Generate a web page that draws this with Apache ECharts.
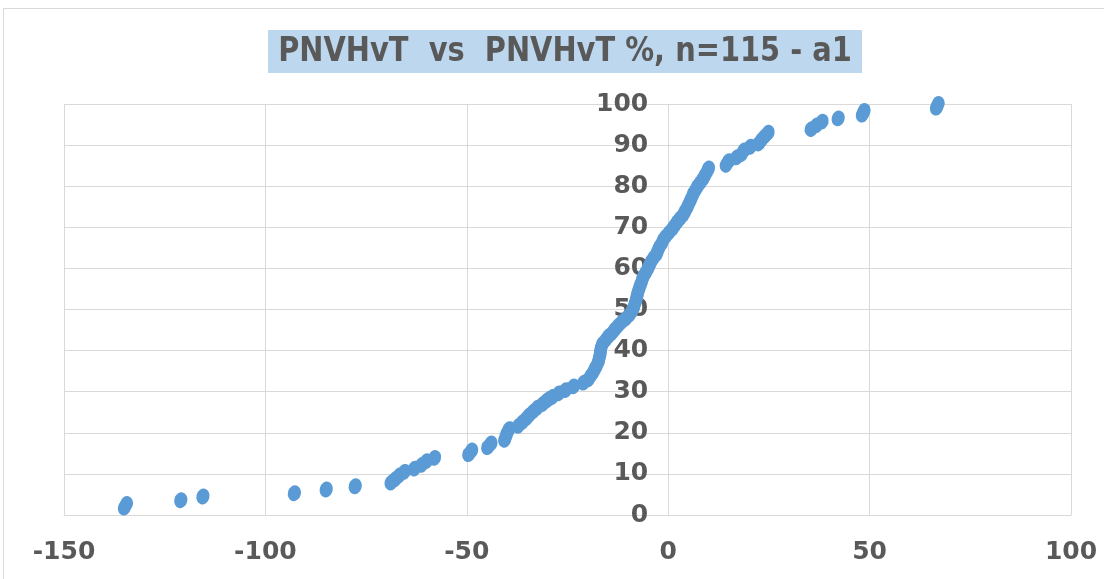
<!DOCTYPE html>
<html>
<head>
<meta charset="utf-8">
<script src="https://cdn.jsdelivr.net/npm/echarts@6/dist/echarts.min.js"></script>
<style>
  html, body { margin: 0; padding: 0; background: #fff; }
  #chart-panel { width: 1104px; height: 579px; }
</style>
</head>
<body>
<div id="chart-panel"></div>
<script>
// PNVHvT values (x) and cumulative percent (y)
const pnvhvt = [
  -135.0, -134.5, -121.0, -115.5, -92.8, -84.9, -77.7,
  -68.8, -67.8, -66.8, -65.5, -63.0, -61.2, -60.0, -58.0,
  -49.5, -48.8, -44.8, -44.0, -40.6, -40.3, -40.0, -39.5,
  -37.2, -36.2, -35.2, -34.5, -33.5, -32.5, -31.2, -30.2, -29.5, -28.8, -27.2, -25.5, -23.5, -21.0,
  -19.8, -19.2, -18.6, -18.1, -17.7, -17.3, -17.1, -16.9, -16.8, -16.6, -16.3, -15.5, -14.8, -13.9,
  -13.2, -12.4, -11.5, -10.5, -9.6, -9.0, -8.6, -8.3, -8.0, -7.8, -7.6, -7.3, -7.0, -6.7,
  -6.4, -6.0, -5.5, -5.0, -4.6, -4.2, -3.6, -2.9, -2.6, -2.2, -1.6, -1.2, -0.6, 0.2,
  1.0, 1.6, 2.2, 3.0, 3.7, 4.2, 4.7, 5.1, 5.5, 5.9, 6.3, 6.8, 7.3, 8.0, 8.6, 9.1, 9.6, 10.0,
  14.4, 15.0, 17.0, 18.2, 18.8, 20.4, 22.5, 23.2, 24.0, 24.8,
  35.5, 36.8, 38.2, 42.2, 48.2, 48.6, 66.6, 67.0
];
const percent = [
  1.8, 2.7, 3.6, 4.5, 5.3, 6.2, 7.0,
  7.9, 8.7, 9.6, 10.5, 11.3, 12.2, 13.1, 13.9,
  14.8, 15.7, 16.5, 17.4, 18.3, 19.1, 20.0, 20.9,
  21.7, 22.6, 23.5, 24.3, 25.2, 26.1, 27.0, 27.8, 28.3, 28.7, 29.6, 30.4, 31.3, 32.2,
  33.0, 33.9, 34.8, 35.7, 36.5, 37.4, 38.3, 39.1, 40.0, 40.9, 41.7, 42.6, 43.5, 44.3,
  45.2, 46.1, 47.0, 47.8, 48.7, 49.6, 50.4, 51.3, 52.2, 53.0, 53.9, 54.8, 55.7, 56.5,
  57.4, 58.3, 59.1, 60.0, 60.9, 61.7, 62.6, 63.5, 64.3, 65.2, 66.1, 67.0, 67.8, 68.7,
  69.6, 70.4, 71.3, 72.2, 73.0, 73.9, 74.8, 75.7, 76.5, 77.4, 78.3, 79.1, 80.0, 80.9, 81.7, 82.6, 83.5, 84.3,
  85.2, 86.1, 87.0, 87.8, 88.7, 89.6, 90.4, 91.3, 92.2, 93.0,
  93.9, 94.8, 95.7, 96.5, 97.4, 98.3, 99.1, 100.0
];
const xTicks = [-150, -100, -50, 0, 50, 100];
const yTicks = [0, 10, 20, 30, 40, 50, 60, 70, 80, 90, 100];
const titleText = "PNVHvT  vs  PNVHvT %, n=115 - a1";

const chartPanel = echarts.init(document.getElementById("chart-panel"));

const gridLeft = 64, gridRight = 33;
const gridWidth = 1104 - gridLeft - gridRight;
// y axis sits on x = 0, shift it from the left edge of the grid
const yAxisShift = (0 - xTicks[0]) / (xTicks[xTicks.length - 1] - xTicks[0]) * gridWidth;

const labelFont = {
  color: "#595959",
  fontSize: 25,
  fontWeight: "bold",
  fontFamily: "DejaVu Sans",
};
const gridColor = "#d9d9d9";

const option = {
  animation: false,
  backgroundColor: "#fff",
  grid: {
    left: gridLeft,
    right: gridRight,
    top: 104,
    bottom: 64,
  },
  xAxis: {
    type: "value",
    min: xTicks[0],
    max: xTicks[xTicks.length - 1],
    interval: 50,
    axisLine: { show: true, onZero: false, lineStyle: { color: gridColor, width: 1 } },
    axisTick: { show: false },
    axisLabel: { ...labelFont, margin: 25 },
    splitLine: { show: true, lineStyle: { color: gridColor, width: 1 } },
  },
  yAxis: {
    type: "value",
    min: yTicks[0],
    max: yTicks[yTicks.length - 1],
    interval: 10,
    offset: -yAxisShift,
    axisLine: { show: false, onZero: false },
    axisTick: { show: false },
    axisLabel: { ...labelFont, margin: 20 },
    splitLine: { show: true, lineStyle: { color: gridColor, width: 1 } },
  },
  series: [
    {
      name: "PNVHvT %",
      type: "scatter",
      // an ellipse, stretched by symbolSize
      symbol: "path://M50 0 A50 50 0 1 1 50 100 A50 50 0 1 1 50 0 Z",
      symbolSize: [13, 16],
      symbolRotate: -15,
      itemStyle: { color: "#5b9bd5", opacity: 1 },
      data: pnvhvt.map((v, i) => [v, percent[i]]),
      z: 5,
    },
  ],
  graphic: [
    {
      type: "rect",
      shape: { x: 3.5, y: 8.5, width: 1110, height: 600 },
      style: { fill: null, stroke: "#d9d9d9", lineWidth: 1 },
      silent: true,
    },
    {
      type: "rect",
      shape: { x: 268, y: 30, width: 594, height: 43 },
      style: { fill: "#bdd7ee" },
      silent: true,
    },
    {
      type: "text",
      x: 565,
      y: 52,
      scaleX: 0.875,
      style: {
        text: titleText,
        fill: "#595959",
        font: "bold 33px 'DejaVu Sans'",
        align: "center",
        verticalAlign: "middle",
      },
      silent: true,
    },
  ],
};
chartPanel.setOption(option);
</script>
</body>
</html>
